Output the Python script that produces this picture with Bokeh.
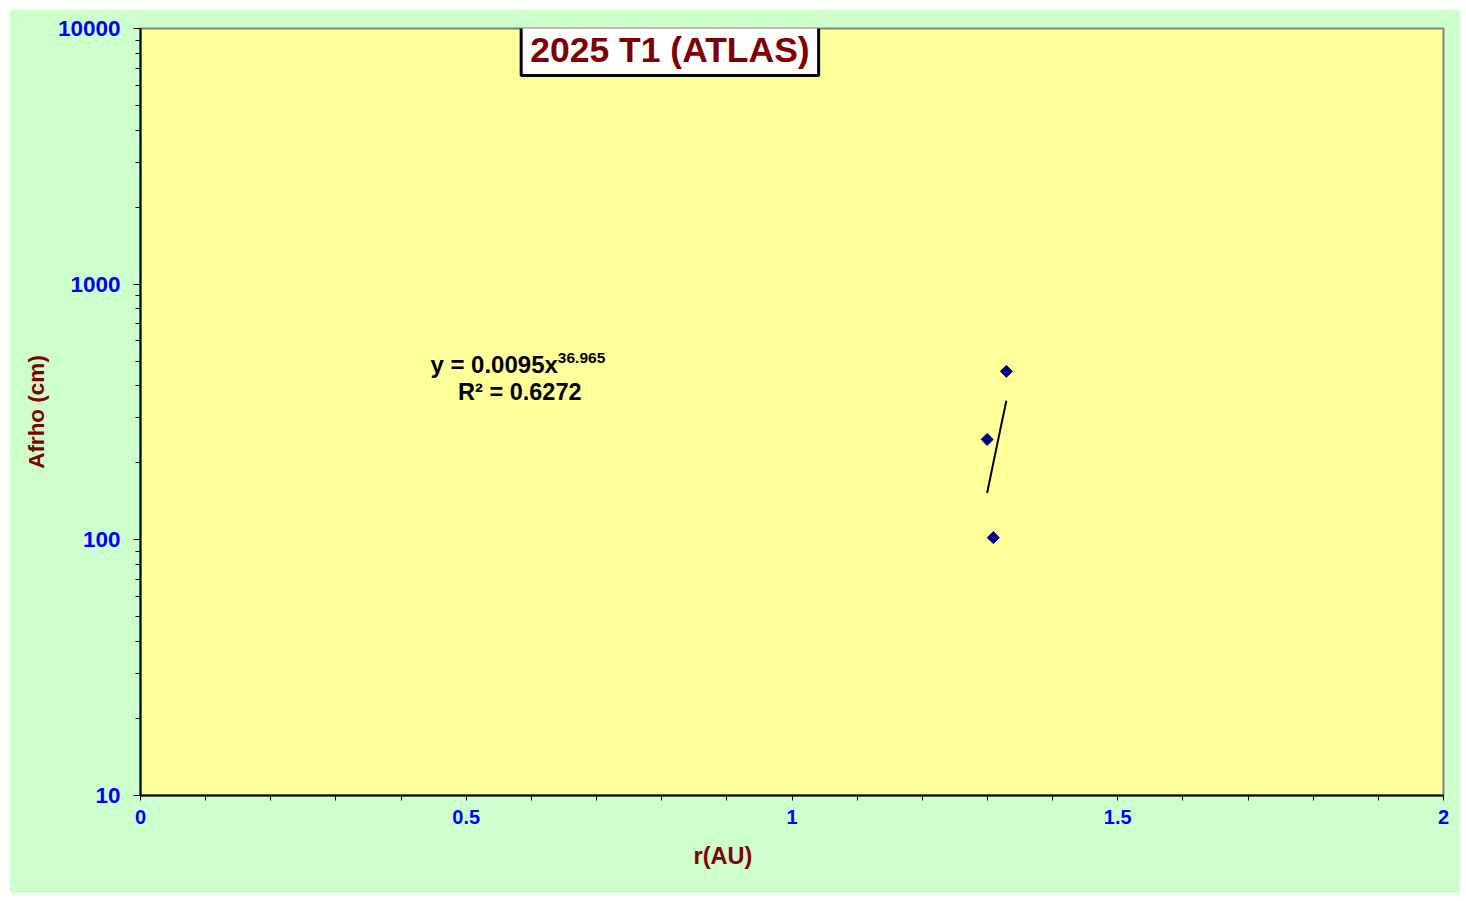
import numpy as np
from bokeh.plotting import figure
from bokeh.models import Label, FixedTicker, Range1d, ColumnDataSource, Title
from bokeh.embed import file_html
from bokeh.resources import INLINE

# ---- data ----
title_text = "2025 T1 (ATLAS)"
r_au = [1.329, 1.2995, 1.309]
afrho_cm = [456, 247, 102]
fit_coef = 0.0095
fit_exp = 36.965
fit_r2 = 0.6272
x_major = [0, 0.5, 1, 1.5, 2]
y_major = [10, 100, 1000, 10000]
x_label = "r(AU)"
y_label = "Afrho (cm)"

FONT = "Liberation Sans"
BLUE = "#0000FF"
DARKRED = "#800000"

p = figure(width=1451, height=884, x_range=Range1d(0, 2), y_range=Range1d(10, 10000),
           y_axis_type="log", output_backend="svg", toolbar_location=None,
           min_border_left=131, min_border_right=17, min_border_top=19, min_border_bottom=98,
           background_fill_color="#FFFF99", border_fill_color="#CCFFCC",
           outline_line_color="#808080", outline_line_width=2,
           margin=(9, 6, 8, 9))
p.xgrid.visible = False
p.ygrid.visible = False

# x axis
x_minor = [round(v, 1) for v in np.arange(0, 2.0001, 0.1) if round(v, 1) not in x_major]
p.xaxis.ticker = FixedTicker(ticks=x_major, minor_ticks=x_minor)
p.xaxis.axis_line_color = "black"
p.xaxis.axis_line_width = 2
p.xaxis.major_tick_out = 5
p.xaxis.major_tick_in = 0
p.xaxis.minor_tick_out = 5
p.xaxis.minor_tick_in = 0
p.xaxis.major_tick_line_color = "black"
p.xaxis.minor_tick_line_color = "black"
p.xaxis.major_label_text_color = BLUE
p.xaxis.major_label_text_font = FONT
p.xaxis.major_label_text_font_style = "bold"
p.xaxis.major_label_text_font_size = "20px"
p.xaxis.major_label_standoff = 9

# y axis
y_minor = [m * d for d in y_major[:-1] for m in range(2, 10)]
p.yaxis.ticker = FixedTicker(ticks=y_major, minor_ticks=y_minor)
p.yaxis.major_label_overrides = {v: str(v) for v in y_major}
p.yaxis.axis_line_color = "black"
p.yaxis.axis_line_width = 2
p.yaxis.major_tick_out = 7
p.yaxis.major_tick_in = 0
p.yaxis.minor_tick_out = 5
p.yaxis.minor_tick_in = 0
p.yaxis.major_tick_line_color = "black"
p.yaxis.minor_tick_line_color = "black"
p.yaxis.major_label_text_color = BLUE
p.yaxis.major_label_text_font = FONT
p.yaxis.major_label_text_font_style = "bold"
p.yaxis.major_label_text_font_size = "22.5px"
p.yaxis.major_label_standoff = 13
p.yaxis.axis_label = y_label
p.yaxis.axis_label_text_color = DARKRED
p.yaxis.axis_label_text_font = FONT
p.yaxis.axis_label_text_font_style = "bold"
p.yaxis.axis_label_text_font_size = "22.5px"
p.yaxis.axis_label_standoff = 6

# x axis label as a below-title, shifted like the reference
p.add_layout(Title(text=x_label, align="left", offset=553, text_color=DARKRED,
                   text_font=FONT, text_font_style="bold", text_font_size="23.5px",
                   standoff=28), "below")

# trend line from fit coefficients over the data range
xs = np.linspace(min(r_au), max(r_au), 50)
ys = fit_coef * xs ** fit_exp
p.line(xs, ys, line_color="black", line_width=2)

# data points
src = ColumnDataSource(dict(x=r_au, y=afrho_cm))
p.scatter("x", "y", source=src, marker="square", angle=np.pi / 4, size=8.5,
          fill_color="#000080", line_color="#000080")

# equation
p.add_layout(Label(x=0.6406, y=485, text="y = %.4f" % fit_coef + "x", text_align="right",
                   text_baseline="middle", text_font=FONT, text_font_style="bold",
                   text_font_size="24px", text_color="black"))
p.add_layout(Label(x=0.6406, y=512, text="%.3f" % fit_exp, text_align="left",
                   text_baseline="middle", text_font=FONT, text_font_style="bold",
                   text_font_size="15.5px", text_color="black"))
p.add_layout(Label(x=0.5822, y=380, text="R² = %.4f" % fit_r2, text_align="center",
                   text_baseline="middle", text_font=FONT, text_font_style="bold",
                   text_font_size="23.5px", text_color="black"))

# title box
p.add_layout(Label(x=0.8126, y=8204, text=title_text, text_align="center",
                   text_baseline="middle", text_font=FONT, text_font_style="bold",
                   text_font_size="35.5px", text_color=DARKRED,
                   background_fill_color="white", border_line_color="black",
                   border_line_width=3, padding=(9, 5)))

open("out.html", "w").write(file_html(p, INLINE))
